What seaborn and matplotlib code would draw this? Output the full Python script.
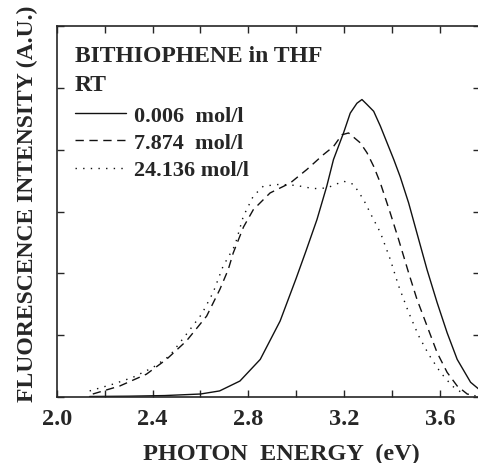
import numpy as np
import pandas as pd
import matplotlib
matplotlib.use('Agg')
import matplotlib.pyplot as plt
import seaborn as sns
from matplotlib.ticker import MultipleLocator

# photon energy (eV) and intensity (A.U.)
e_low = [2.137, 2.3, 2.45, 2.6, 2.68, 2.765, 2.85, 2.933, 3.0, 3.04, 3.087, 3.128, 3.156,
         3.198, 3.226, 3.254, 3.275, 3.296, 3.324, 3.352, 3.38, 3.408, 3.435, 3.47,
         3.512, 3.547, 3.589, 3.631, 3.673, 3.729, 3.763]
i_low = [0.01, 0.015, 0.025, 0.05, 0.10, 0.26, 0.61, 1.23, 1.92, 2.35, 2.87, 3.41, 3.84,
         4.27, 4.59, 4.75, 4.81, 4.73, 4.62, 4.38, 4.11, 3.84, 3.56, 3.14,
         2.55, 2.06, 1.53, 1.04, 0.61, 0.24, 0.13]

e_mid = [2.15, 2.263, 2.374, 2.458, 2.542, 2.626, 2.681, 2.716, 2.737, 2.78, 2.821, 2.891,
         2.975, 3.045, 3.114, 3.156, 3.191, 3.219, 3.268, 3.296, 3.324, 3.352, 3.393, 3.428,
         3.47, 3.505, 3.547, 3.589, 3.631, 3.673, 3.715, 3.75]
i_mid = [0.05, 0.18, 0.37, 0.61, 0.91, 1.31, 1.74, 2.06, 2.33, 2.75, 3.03, 3.30,
         3.46, 3.68, 3.92, 4.05, 4.24, 4.27, 4.11, 3.95, 3.73, 3.46, 2.98, 2.55,
         2.01, 1.58, 1.15, 0.72, 0.40, 0.18, 0.05, 0.02]

e_high = [2.137, 2.235, 2.318, 2.402, 2.472, 2.542, 2.605, 2.653, 2.695, 2.744, 2.779,
          2.821, 2.863, 2.933, 3.003, 3.072, 3.128, 3.198, 3.24, 3.282, 3.317, 3.352,
          3.393, 3.428, 3.47, 3.512, 3.554, 3.603, 3.652, 3.70]
i_high = [0.10, 0.21, 0.32, 0.48, 0.67, 1.02, 1.34, 1.69, 2.12, 2.45, 2.92,
          3.25, 3.41, 3.44, 3.42, 3.37, 3.38, 3.49, 3.44, 3.19, 2.92, 2.66,
          2.23, 1.80, 1.37, 0.99, 0.69, 0.40, 0.18, 0.05]

labels = ['0.006  mol/l', '7.874  mol/l', '24.136 mol/l']

df = pd.concat([
    pd.DataFrame({'energy': e_low, 'intensity': i_low, 'conc': labels[0]}),
    pd.DataFrame({'energy': e_mid, 'intensity': i_mid, 'conc': labels[1]}),
    pd.DataFrame({'energy': e_high, 'intensity': i_high, 'conc': labels[2]}),
])

sns.set_style('ticks')
plt.rcParams['font.family'] = ['Liberation Serif', 'DejaVu Serif']
plt.rcParams['font.weight'] = 'bold'

fig = plt.figure(figsize=(4.78, 4.64), dpi=100)
ax = fig.add_axes([0.119, 0.142, 0.886, 0.80])

sns.lineplot(data=df, x='energy', y='intensity', style='conc', hue='conc',
             palette=['#111111'] * 3, dashes={labels[0]: '', labels[1]: (6, 4), labels[2]: (1, 4.5)},
             linewidth=1.0, ax=ax, legend=False, sort=False)

ax.set_xlim(2.0, 3.77)
ax.set_ylim(0, 6)
ax.xaxis.set_major_locator(MultipleLocator(0.4))
ax.xaxis.set_minor_locator(MultipleLocator(0.2))
ax.yaxis.set_major_locator(MultipleLocator(1))
ax.tick_params(which='both', direction='in', top=True, right=True, length=5, width=1)
ax.tick_params(axis='x', labelsize=17.5, pad=8)
ax.set_yticklabels([])
for lab in ax.get_xticklabels():
    lab.set_fontweight('bold')
for s in ax.spines.values():
    s.set_linewidth(1.2)

ax.set_xlabel('PHOTON  ENERGY  (eV)', fontsize=17.5, fontweight='bold')
ax.xaxis.set_label_coords(0.53, -0.122)
ax.xaxis.label.set_va('top')
ax.set_ylabel('FLUORESCENCE INTENSITY (A.U.)', fontsize=17, fontweight='bold')
ax.yaxis.set_label_coords(-0.045, 0.523)

ax.text(0.043, 0.905, 'BITHIOPHENE in THF', transform=ax.transAxes, fontsize=17,
        fontweight='bold', va='baseline')
ax.text(0.043, 0.827, 'RT', transform=ax.transAxes, fontsize=17, fontweight='bold',
        va='baseline')

handles = ax.get_lines()[:3]
ax.legend(handles, labels, loc='upper left', bbox_to_anchor=(0.022, 0.81), frameon=False,
          prop={'size': 16, 'weight': 'bold'}, handlelength=2.3, handletextpad=0.35,
          labelspacing=0.3, borderaxespad=0)

fig.savefig('out.png', dpi=100)
